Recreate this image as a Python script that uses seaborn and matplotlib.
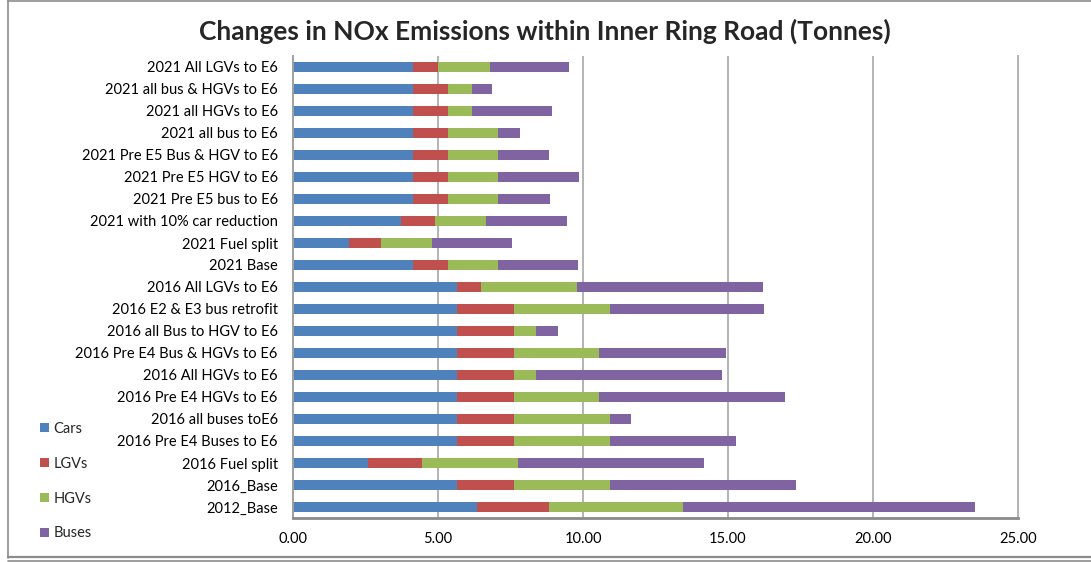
import matplotlib
matplotlib.use("Agg")
import matplotlib.pyplot as plt
from matplotlib.lines import Line2D
from matplotlib.patches import Patch
from matplotlib.ticker import FormatStrFormatter
import numpy as np
import pandas as pd
import seaborn as sns

# Scenarios, listed top to bottom
scenarios = [
    "2021 All LGVs to E6",
    "2021 all bus & HGVs to E6",
    "2021 all HGVs to E6",
    "2021 all bus to E6",
    "2021 Pre E5 Bus & HGV to E6",
    "2021 Pre E5 HGV to E6",
    "2021 Pre E5 bus to E6",
    "2021 with 10% car reduction",
    "2021 Fuel split",
    "2021 Base",
    "2016 All LGVs to E6",
    "2016 E2 & E3 bus retrofit",
    "2016 all Bus to HGV to E6",
    "2016 Pre E4 Bus & HGVs to E6",
    "2016 All HGVs to E6",
    "2016 Pre E4 HGVs to E6",
    "2016 all buses toE6",
    "2016 Pre E4 Buses to E6",
    "2016 Fuel split",
    "2016_Base",
    "2012_Base",
]

# NOx emissions (tonnes) by vehicle type
cars = [4.15, 4.15, 4.15, 4.15, 4.15, 4.15, 4.15, 3.72, 1.93, 4.15,
        5.66, 5.66, 5.66, 5.66, 5.66, 5.66, 5.66, 5.66, 2.58, 5.66, 6.34]
lgvs = [0.85, 1.18, 1.18, 1.18, 1.18, 1.18, 1.18, 1.19, 1.10, 1.18,
        0.82, 1.95, 1.95, 1.95, 1.95, 1.95, 1.95, 1.95, 1.87, 1.95, 2.49]
hgvs = [1.78, 0.84, 0.84, 1.75, 1.73, 1.73, 1.75, 1.75, 1.77, 1.75,
        3.31, 3.32, 0.77, 2.94, 0.77, 2.94, 3.32, 3.32, 3.31, 3.32, 4.63]
buses = [2.75, 0.70, 2.75, 0.76, 1.78, 2.79, 1.79, 2.78, 2.76, 2.76,
         6.43, 5.32, 0.75, 4.39, 6.42, 6.42, 0.73, 4.36, 6.42, 6.41, 10.07]

series_names = ["Cars", "LGVs", "HGVs", "Buses"]
series_colors = ["#4F81BD", "#C0504D", "#9BBB59", "#8064A2"]

x_ticks = [0, 5, 10, 15, 20, 25]

df = pd.DataFrame({"Scenario": scenarios, "Cars": cars, "LGVs": lgvs,
                   "HGVs": hgvs, "Buses": buses})
stack = df[series_names].cumsum(axis=1)

sns.set_style("white")
plt.rcParams["font.family"] = ["Lato", "DejaVu Sans"]

fig = plt.figure(figsize=(10.91, 5.62), dpi=100)
ax = fig.add_axes([293 / 1091, 1 - 518 / 562, (1018 - 293) / 1091, (518 - 56) / 562])

# Stacked bars: draw cumulative totals from the outermost layer inwards
for name, color in reversed(list(zip(series_names, series_colors))):
    sns.barplot(x=stack[name], y=df["Scenario"], order=scenarios, orient="h",
                color=color, width=0.49, linewidth=0, errorbar=None,
                saturation=1, ax=ax)

ax.set_xlim(0, 25)
ax.set_xticks(x_ticks)
ax.xaxis.set_major_formatter(FormatStrFormatter("%.2f"))
ax.set_xlabel("")
ax.set_ylabel("")
ax.set_axisbelow(True)
ax.grid(axis="x", color="#b3b3b3", linewidth=1.4)
ax.grid(axis="y", visible=False)

ax.spines["top"].set_visible(False)
ax.spines["right"].set_color("#b3b3b3")
ax.spines["right"].set_linewidth(1.4)
ax.spines["left"].set_color("#a0a0a0")
ax.spines["left"].set_linewidth(1.4)
ax.spines["bottom"].set_color("#8a8a8a")
ax.spines["bottom"].set_linewidth(2.0)

ax.tick_params(axis="y", length=0, pad=11, labelsize=10.5, colors="black")
ax.tick_params(axis="x", length=0, pad=10, labelsize=10.5, colors="black")

fig.text(545 / 1091, 1 - 31 / 562,
         "Changes in NOx Emissions within Inner Ring Road (Tonnes)",
         ha="center", va="center", fontsize=19, fontweight="bold")

handles = [Patch(facecolor=c, edgecolor="none") for c in series_colors]
fig.legend(handles, series_names, loc="upper left",
           bbox_to_anchor=(34 / 1091, 1 - 416 / 562), frameon=False,
           fontsize=10.5, handlelength=0.6, handleheight=0.6,
           handletextpad=0.35, labelspacing=1.43, borderaxespad=0)

# Chart frame
frame = "#8c8c8c"
fig.add_artist(Line2D([8 / 1091, 1], [1 - 0.5 / 562, 1 - 0.5 / 562],
                      transform=fig.transFigure, color=frame, linewidth=1.2))
fig.add_artist(Line2D([8 / 1091, 8 / 1091], [1 - 558 / 562, 1],
                      transform=fig.transFigure, color=frame, linewidth=1.2))
fig.add_artist(Line2D([8 / 1091, 1], [1 - 557 / 562, 1 - 557 / 562],
                      transform=fig.transFigure, color=frame, linewidth=1.6))
fig.add_artist(Line2D([8 / 1091, 1], [1 - 561 / 562, 1 - 561 / 562],
                      transform=fig.transFigure, color=frame, linewidth=1.2))

fig.savefig("out.png", dpi=100)
